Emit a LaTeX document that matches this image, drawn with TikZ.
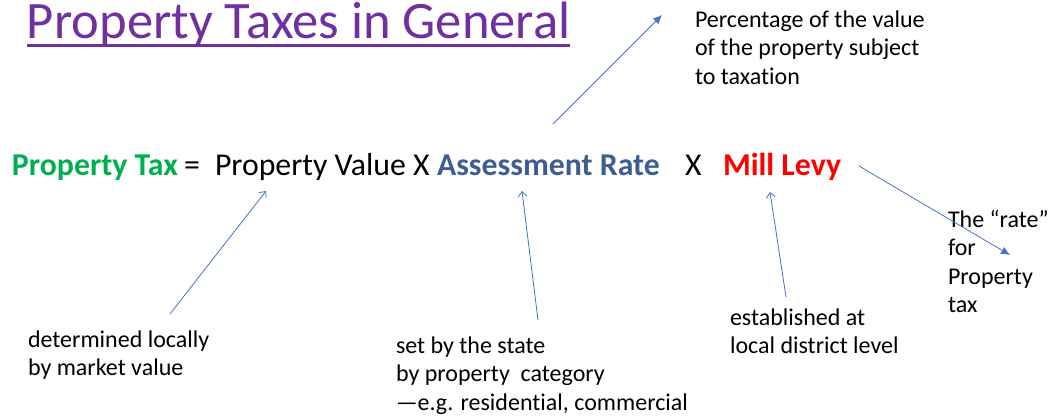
\documentclass[tikz,border=0pt]{standalone}
\usepackage{fontspec}
\setmainfont{Carlito}[Ligatures={NoCommon}]
\usetikzlibrary{arrows.meta}
\definecolor{titlepurple}{HTML}{7030A0}
\definecolor{taxgreen}{HTML}{00B050}
\definecolor{rateblue}{HTML}{3E5E92}
\definecolor{levyred}{HTML}{FF0000}
\definecolor{arrowblue}{HTML}{4472C4}
\newcommand{\linesblock}[1]{\begin{tabular}[t]{@{}l@{}}#1\end{tabular}}
\begin{document}
\begin{tikzpicture}[x=1pt,y=-1pt,
  txt/.style={anchor=base west,inner sep=0pt,outer sep=0pt},
  note/.style={txt,font=\fontsize{24}{28.5}\selectfont},
  eqn/.style={txt,font=\fontsize{31.8}{38}\selectfont},
  eqnb/.style={txt,font=\fontsize{31.8}{38}\selectfont\bfseries},
  conn/.style={draw=arrowblue,line width=0.8pt},
  filledhead/.style={conn,-{Latex[length=9pt,width=8pt]}},
  openhead/.style={conn,-{Straight Barb[length=5pt,width=9pt]}}]
\useasboundingbox (0,0) rectangle (1053,418);
% title
\node[txt,font=\fontsize{52.6}{62}\selectfont,text=titlepurple] (title) at (27,38) {Property Taxes in General};
\draw[titlepurple,line width=2.4pt] ([yshift=-7.5pt]title.base west) -- ([yshift=-7.5pt]title.base east);
% equation
\node[eqnb,text=taxgreen] (ptax) at (12,175) {Property Tax};
\node[eqn] (eq) at (184,175) {=};
\node[eqn] (pval) at (215,175) {Property Value X};
\node[eqnb,text=rateblue] (arate) at (437,175) {Assessment Rate};
\node[eqn] (x2) at (685,175) {X};
\node[eqnb,text=levyred] (mill) at (723,175) {Mill Levy};
% notes
\node[note] (pct) at (695,27) {\linesblock{Percentage of the value\\of the property subject\\to taxation}};
\node[note] (rate) at (948,227) {\linesblock{The “rate”\\for\\Property\\tax}};
\node[note] (det) at (28,347) {\linesblock{determined locally\\by market value}};
\node[note] (set) at (396,353) {\linesblock{set by the state\\by property\ \ category\\—e.g. residential, commercial}};
\node[note] (est) at (730,325) {\linesblock{established at\\local district level}};
% connector end points
\coordinate (a1s) at (553,124); \coordinate (a1e) at (662,15);
\coordinate (a2s) at (170,314); \coordinate (a2e) at (266,191);
\coordinate (a3s) at (538,320); \coordinate (a3e) at (522,191);
\coordinate (a4s) at (786,297); \coordinate (a4e) at (770,192);
\coordinate (a5s) at (859,166); \coordinate (a5e) at (1010,255);
\draw[filledhead] (a1s) -- (a1e);
\draw[openhead] (a2s) -- (a2e);
\draw[openhead] (a3s) -- (a3e);
\draw[openhead] (a4s) -- (a4e);
\draw[filledhead] (a5s) -- (a5e);
\end{tikzpicture}
\end{document}
